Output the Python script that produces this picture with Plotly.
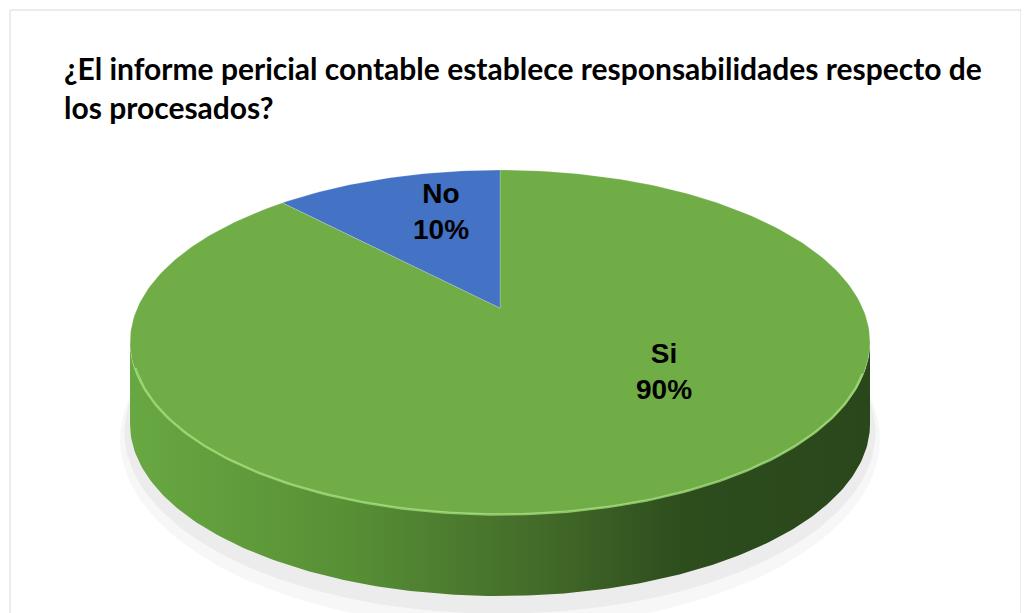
import numpy as np
import plotly.graph_objects as go

# ---- data ----
categories = ["Si", "No"]
values = [90, 10]
colors = ["#70AD47", "#4472C4"]
title_text = "¿El informe pericial contable establece responsabilidades respecto de<br>los procesados?"

# ---- geometry / style (pixels of the canvas; page body adds an 8px offset) ----
W, H = 1029, 613
OFF = 8
CX_PX, CY_PX, RX_PX, RY_PX, DEPTH_PX = 500 - OFF, 342 - OFF, 370, 172, 82
APEX_PX = 34  # perspective: the pie's centre appears above the ellipse centre
ry = RY_PX / RX_PX
depth = DEPTH_PX / RX_PX
apex_y = APEX_PX / RX_PX
x_range = [-CX_PX / RX_PX, (W - CX_PX) / RX_PX]
y_range = [-(H - CY_PX) / RX_PX, CY_PX / RX_PX]
# label anchor in unit-circle coords (before vertical squash), per category
label_anchor = {"Si": (0.443, -0.17), "No": (-0.16, 0.76)}


def rim(theta_deg, dy=0.0, sx=1.0, sy=1.0):
    t = np.radians(theta_deg)
    return sx * np.sin(t), sy * ry * np.cos(t) + dy


fig = go.Figure()

# soft shadow under the pie
for k, a in [(0.045, 0.03), (0.025, 0.045)]:
    th = np.linspace(0, 360, 241)
    x, y = rim(th, dy=-depth - k * 0.9, sx=1 + k * 0.6, sy=1 + k * 2.2)
    fig.add_trace(go.Scatter(x=x, y=y, mode="lines", line=dict(width=0),
                             fill="toself", fillcolor=f"rgba(0,0,0,{a})",
                             hoverinfo="skip", showlegend=False))

# side wall (front half visible)
th_top = np.linspace(90, 270, 181)
xt, yt = rim(th_top)
xb, yb = rim(th_top[::-1], dy=-depth)
fig.add_trace(go.Scatter(
    x=np.concatenate([xt, xb, xt[:1]]), y=np.concatenate([yt, yb, yt[:1]]),
    mode="lines", line=dict(width=0), fill="toself",
    fillgradient=dict(type="horizontal", colorscale=[
        [0.0, "#68A842"], [0.3, "#578F35"], [0.55, "#436B29"],
        [0.75, "#2D4D1D"], [1.0, "#2A471B"]]),
    hoverinfo="skip", showlegend=False))

# top face slices: start at 12 o'clock, clockwise
total = sum(values)
start = 0.0
for cat, val, col in zip(categories, values, colors):
    span = 360.0 * val / total
    th = np.linspace(start, start + span, max(int(span), 2) + 1)
    x, y = rim(th)
    fig.add_trace(go.Scatter(
        x=np.concatenate([[0], x, [0]]), y=np.concatenate([[apex_y], y, [apex_y]]),
        mode="lines", line=dict(width=0.8, color="rgba(255,255,255,0.25)"),
        fill="toself", fillcolor=col, name=cat,
        hovertemplate=f"{cat}: {val / total:.0%}<extra></extra>",
        showlegend=False))
    ax, ay = label_anchor[cat]
    fig.add_annotation(x=ax, y=ay * ry, xref="x", yref="y",
                       text=f"<b>{cat}<br>{val / total:.0%}</b>", showarrow=False,
                       font=dict(family="Liberation Sans, Arial", size=28,
                                 color="#000000"),
                       align="center")
    start += span

# bevel highlight on the front rim
th_h = np.linspace(100, 262, 150)
xh, yh = rim(th_h, dy=-0.006, sx=0.995, sy=0.99)
fig.add_trace(go.Scatter(x=xh, y=yh, mode="lines",
                         line=dict(color="rgba(160,220,120,0.8)", width=2.5),
                         hoverinfo="skip", showlegend=False))

fig.add_annotation(x=(62 - OFF) / W, y=1 - (48 - OFF) / H, xref="paper", yref="paper",
                   xanchor="left", yanchor="top", align="left",
                   text=f"<b>{title_text}</b>", showarrow=False,
                   font=dict(family="Lato", size=30, color="#000000"))

fig.add_shape(type="rect", xref="paper", yref="paper",
              x0=(10 - OFF) / W, x1=(1021 - OFF) / W, y0=-0.05, y1=1 - (10 - OFF) / H,
              line=dict(color="#D9D9D9", width=1), fillcolor="rgba(0,0,0,0)")

fig.update_layout(
    width=W, height=H, margin=dict(l=0, r=0, t=0, b=0),
    paper_bgcolor="white", plot_bgcolor="white", showlegend=False,
    xaxis=dict(range=x_range, visible=False, fixedrange=True),
    yaxis=dict(range=y_range, visible=False, fixedrange=True),
)

fig.write_html("out.html")
